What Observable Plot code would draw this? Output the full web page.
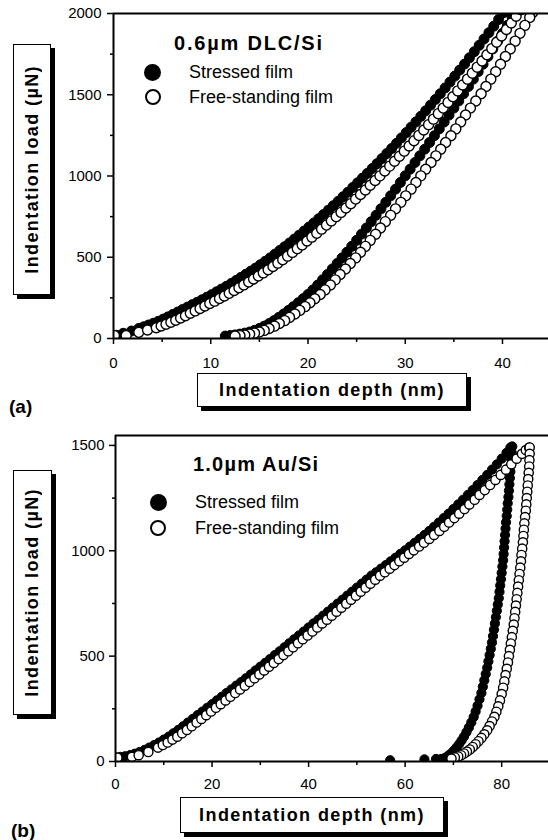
<!DOCTYPE html>
<html><head><meta charset="utf-8">
<script src="https://cdn.jsdelivr.net/npm/d3@7"></script>
<script src="https://cdn.jsdelivr.net/npm/@observablehq/plot@0.6"></script>
<style>
html,body{margin:0;padding:0;background:#fff;}
#wrap{position:relative;width:548px;height:840px;overflow:hidden;background:#fff;font-family:"Liberation Sans",Arial,Helvetica,sans-serif;color:#000;}
.panel{position:absolute;left:0;}
.box{position:absolute;border:1px solid #000;background:#fff;box-shadow:4px 4px 0 #000;display:flex;align-items:center;justify-content:center;font-weight:bold;font-size:18px;letter-spacing:1.4px;box-sizing:border-box;white-space:nowrap;}
.vbox span{writing-mode:vertical-rl;transform:rotate(180deg);}
.txt{position:absolute;white-space:nowrap;line-height:1;}
.dotf{position:absolute;border-radius:50%;background:#000;}
.doto{position:absolute;border-radius:50%;background:#fff;border:2px solid #000;box-sizing:border-box;}
</style>
</head><body>
<div id="wrap"></div>
<script>
// ---------- Panel (a): 0.6 µm DLC/Si ----------
const aTitle = "0.6µm DLC/Si";
const seriesNames = ["Stressed film", "Free-standing film"];
const xLabel = "Indentation depth (nm)";
const yLabel = "Indentation load (µN)";
const aXTicks = [0, 10, 20, 30, 40];
const aXMinor = [5, 15, 25, 35];
const aYTicks = [0, 500, 1000, 1500, 2000];
const aYMinor = [250, 750, 1250, 1750];

// [depth nm, load µN]
const aStressedLoad = [[0,20],[0.3,20],[1.0,32],[1.85,46],[2.6,62],[3.1,72],[3.6,83],[4.1,94],[4.6,106],[5.1,119],[5.6,133],[6.1,148],[6.6,163],[7.1,178],[7.6,193],[8.1,208],[8.6,223],[9.1,238],[9.6,254],[10.1,270],[10.6,287],[11.1,304],[11.6,321],[12.1,339],[12.6,357],[13.1,376],[13.6,395],[14.1,414],[14.6,433],[15.1,454],[15.6,475],[16.1,496],[16.6,519],[17.1,542],[17.6,565],[18.1,588],[18.6,612],[19.1,636],[19.6,661],[20.1,686],[20.6,711],[21.1,737],[21.6,763],[22.1,790],[22.6,817],[23.1,844],[23.6,872],[24.1,900],[24.6,929],[25.1,958],[25.6,987],[26.1,1016],[26.6,1046],[27.1,1076],[27.6,1107],[28.1,1138],[28.6,1169],[29.1,1201],[29.6,1234],[30.1,1267],[30.6,1300],[31.1,1333],[31.6,1367],[32.1,1401],[32.6,1436],[33.1,1471],[33.6,1506],[34.1,1542],[34.6,1578],[35.1,1615],[35.6,1652],[36.1,1689],[36.6,1727],[37.1,1765],[37.6,1804],[38.1,1843],[38.6,1882],[39.1,1922],[39.6,1963],[40.1,2004]];
const aStressedUnload = [[41.3,2006],[41,1976],[40.5,1927],[40,1878],[39.5,1830],[39,1782],[38.5,1735],[38,1688],[37.5,1642],[37,1596],[36.5,1551],[36,1506],[35.5,1462],[35,1418],[34.5,1375],[34,1332],[33.5,1290],[33,1248],[32.5,1206],[32,1165],[31.5,1124],[31,1083],[30.5,1042],[30,1001],[29.5,960],[29,919],[28.5,878],[28,838],[27.5,798],[27,758],[26.5,719],[26,680],[25.5,642],[25,604],[24.5,567],[24,531],[23.5,496],[23,462],[22.5,428],[22,394],[21.5,361],[21,329],[20.5,299],[20,271],[19.5,245],[19,220],[18.5,196],[18,173],[17.5,151],[17,130],[16.5,110],[16,92],[15.5,76],[15,62],[14.5,50],[14,40],[13.5,33],[13,27],[12.5,22],[12,18],[11.5,15]];
const aFreeLoad = [[0.1,18],[1.3,18],[2.6,38],[3.5,52],[4.4,66],[4.9,77],[5.4,88],[5.9,100],[6.4,112],[6.9,126],[7.4,140],[7.9,155],[8.4,170],[8.9,185],[9.4,200],[9.9,215],[10.4,230],[10.9,246],[11.4,262],[11.9,278],[12.4,295],[12.9,312],[13.4,330],[13.9,348],[14.4,366],[14.9,385],[15.4,404],[15.9,423],[16.4,443],[16.9,464],[17.4,485],[17.9,507],[18.4,530],[18.9,553],[19.4,576],[19.9,600],[20.4,624],[20.9,648],[21.4,673],[21.9,698],[22.4,724],[22.9,750],[23.4,776],[23.9,803],[24.4,830],[24.9,858],[25.4,886],[25.9,914],[26.4,943],[26.9,972],[27.4,1001],[27.9,1031],[28.4,1061],[28.9,1091],[29.4,1122],[29.9,1153],[30.4,1185],[30.9,1217],[31.4,1250],[31.9,1283],[32.4,1316],[32.9,1350],[33.4,1384],[33.9,1418],[34.4,1453],[34.9,1488],[35.4,1524],[35.9,1560],[36.4,1596],[36.9,1633],[37.4,1670],[37.9,1708],[38.4,1746],[38.9,1784],[39.4,1823],[39.9,1862],[40.4,1902],[40.9,1942],[41.4,1983],[41.9,2024]];
const aFreeUnload = [[43.1,2006],[42.8,1976],[42.3,1927],[41.8,1878],[41.3,1830],[40.8,1782],[40.3,1735],[39.8,1688],[39.3,1642],[38.8,1596],[38.3,1551],[37.8,1506],[37.25,1462],[36.7,1418],[36.2,1375],[35.7,1332],[35.2,1290],[34.7,1248],[34.15,1206],[33.65,1165],[33.15,1124],[32.65,1083],[32.1,1042],[31.6,1001],[31.1,960],[30.6,919],[30.05,878],[29.55,838],[29.0,798],[28.5,758],[27.95,719],[27.45,680],[26.95,642],[26.4,604],[25.9,567],[25.4,531],[24.9,496],[24.35,462],[23.85,428],[23.3,394],[22.8,361],[22.3,329],[21.75,299],[21.25,271],[20.7,245],[20.2,220],[19.7,196],[19.15,173],[18.65,151],[18.1,130],[17.6,110],[17.05,92],[16.55,76],[16.0,62],[15.5,50],[15.0,40],[14.5,33],[14.0,27],[13.5,22],[13.0,18],[12.5,15]];

// ---------- Panel (b): 1.0 µm Au/Si ----------
const bTitle = "1.0µm Au/Si";
const bXTicks = [0, 20, 40, 60, 80];
const bXMinor = [10, 30, 50, 70];
const bYTicks = [0, 500, 1000, 1500];
const bYMinor = [250, 750, 1250];

const bStressedLoad = [[0,20],[1.0,22],[2.0,25],[3.0,30],[4.0,37],[5.0,45],[6.0,55],[7.0,66],[8.0,78],[9.0,90],[10.0,104],[11.0,118],[12.0,134],[13.0,150],[14.0,167],[15.0,185],[16.0,202],[17.0,220],[18.0,237],[19.0,255],[20.0,272],[21.0,290],[22.0,307],[23.0,325],[24.0,342],[25.0,360],[26.0,377],[27.0,395],[28.0,413],[29.0,432],[30.0,450],[31.0,468],[32.0,486],[33.0,505],[34.0,523],[35.0,542],[36.0,561],[37.0,580],[38.0,598],[39.0,617],[40.0,636],[41.0,655],[42.0,673],[43.0,692],[44.0,711],[45.0,730],[46.0,749],[47.0,768],[48.0,787],[49.0,806],[50.0,825],[51.0,844],[52.0,863],[53.0,882],[54.0,898],[55.0,915],[56.0,932],[57.0,950],[58.0,967],[59.0,985],[60.0,1002],[61.0,1020],[62.0,1038],[63.0,1056],[64.0,1075],[65.0,1094],[66.0,1114],[67.0,1134],[68.0,1155],[69.0,1176],[70.0,1198],[71.0,1220],[72.0,1242],[73.0,1265],[74.0,1288],[75.0,1312],[76.0,1336],[77.0,1360],[78.0,1385],[79.0,1410],[80.0,1437],[81.0,1465],[81.8,1490]];
const bStressedUnload = [[82.2,1495],[82.1,1465],[82.0,1435],[81.9,1405],[81.8,1375],[81.7,1345],[81.6,1315],[81.5,1285],[81.4,1255],[81.25,1225],[81.15,1195],[81.05,1165],[80.9,1135],[80.8,1105],[80.7,1075],[80.6,1045],[80.5,1015],[80.4,985],[80.3,955],[80.15,925],[80.0,895],[79.85,865],[79.7,835],[79.55,805],[79.4,775],[79.2,745],[79.0,715],[78.8,685],[78.6,655],[78.4,625],[78.2,595],[78.0,565],[77.75,535],[77.5,505],[77.25,475],[77.0,445],[76.7,415],[76.4,385],[76.1,355],[75.8,325],[75.4,295],[75.0,265],[74.6,237],[74.2,211],[73.7,185],[73.2,161],[72.7,139],[72.2,118],[71.7,100],[71.2,83],[70.7,68],[70.2,54],[69.7,42],[69.2,32],[68.7,23],[68.2,16],[67.5,12],[66.4,12],[64.0,10],[56.9,6]];
const bFreeLoad = [[0.4,18],[3.4,22],[4.8,30],[6.8,45],[8.8,66],[9.8,78],[10.8,90],[11.8,104],[12.8,118],[13.8,134],[14.8,150],[15.8,167],[16.8,185],[17.8,202],[18.8,220],[19.8,237],[20.8,255],[21.8,272],[22.8,290],[23.8,307],[24.8,325],[25.8,342],[26.8,360],[27.8,377],[28.8,395],[29.8,413],[30.8,432],[31.8,450],[32.8,468],[33.8,486],[34.8,505],[35.8,523],[36.8,542],[37.8,561],[38.8,580],[39.8,598],[40.8,617],[41.8,636],[42.8,655],[43.8,673],[44.8,692],[45.8,711],[46.8,730],[47.8,749],[48.8,768],[49.8,787],[50.8,806],[51.8,825],[52.8,844],[53.8,863],[54.8,882],[55.8,898],[56.8,915],[57.8,932],[58.8,950],[59.8,967],[60.8,985],[61.8,1002],[62.9,1020],[63.9,1038],[65.0,1056],[66.0,1075],[67.1,1094],[68.1,1114],[69.1,1134],[70.2,1155],[71.2,1176],[72.3,1198],[73.3,1220],[74.4,1242],[75.4,1265],[76.5,1288],[77.6,1312],[78.7,1336],[79.8,1360],[80.9,1385],[82.0,1410],[83.1,1437],[84.2,1460],[85.0,1478],[85.7,1490]];
const bFreeUnload = [[85.8,1490],[85.8,1460],[85.75,1430],[85.7,1400],[85.6,1370],[85.5,1340],[85.4,1310],[85.3,1280],[85.2,1250],[85.1,1220],[85.0,1190],[84.85,1160],[84.7,1130],[84.6,1100],[84.5,1070],[84.4,1040],[84.25,1010],[84.1,980],[84.0,950],[83.85,920],[83.7,890],[83.55,860],[83.4,830],[83.25,800],[83.1,770],[82.95,740],[82.8,710],[82.65,680],[82.5,650],[82.3,620],[82.1,590],[81.9,560],[81.7,530],[81.5,500],[81.3,470],[81.05,440],[80.8,410],[80.55,380],[80.3,350],[80.0,320],[79.65,290],[79.3,262],[78.9,236],[78.5,212],[78.0,190],[77.5,168],[77.0,148],[76.4,129],[75.8,112],[75.2,96],[74.6,82],[74.0,69],[73.4,57],[72.8,47],[72.2,38],[71.6,30],[71.0,24],[70.3,19],[69.6,14]];

const FONT = '"Liberation Sans", Arial, Helvetica, sans-serif';
const wrap = document.getElementById("wrap");

function makePanel(cfg) {
  const X = d => d[0], Y = d => d[1];
  const filled = {x: X, y: Y, r: cfg.r, fill: "#000", stroke: "#000", strokeWidth: 1, clip: true};
  const open = {x: X, y: Y, r: cfg.r, fill: "#fff", stroke: "#000", strokeWidth: 1.4, clip: true};
  const svg = Plot.plot({
    width: 548, height: cfg.height,
    marginTop: cfg.mt, marginLeft: cfg.ml, marginRight: 0, marginBottom: cfg.mb,
    style: {fontFamily: FONT, fontSize: "15px", color: "#000", background: "transparent", overflow: "visible"},
    x: {domain: cfg.xd},
    y: {domain: cfg.yd},
    marks: [
      Plot.dot(cfg.sLoad, filled),
      Plot.dot(cfg.sUnload, filled),
      Plot.dot(cfg.fLoad, open),
      Plot.dot(cfg.fUnload, open),
      Plot.ruleX([0], {stroke: "#000", strokeWidth: 2}),
      Plot.ruleY([0], {stroke: "#000", strokeWidth: 2}),
      Plot.ruleY([cfg.yd[1]], {stroke: "#000", strokeWidth: 2}),
      Plot.axisX(cfg.xTicks, {tickSize: 6, tickPadding: cfg.xpad, tickFormat: d3.format("d"), strokeWidth: 1.5, fontSize: 15, label: null}),
      Plot.axisX(cfg.xMinor, {tickSize: 4, tickFormat: () => "", strokeWidth: 1.5, label: null}),
      Plot.axisY(cfg.yTicks, {tickSize: 6, tickPadding: cfg.ypad, tickFormat: d3.format("d"), strokeWidth: 1.5, fontSize: 15, label: null}),
      Plot.axisY(cfg.yMinor, {tickSize: 3, tickFormat: () => "", strokeWidth: 1.5, label: null})
    ]
  });
  const holder = document.createElement("div");
  holder.className = "panel";
  holder.style.top = cfg.top + "px";
  holder.appendChild(svg);
  wrap.appendChild(holder);
}

makePanel({top: 0, height: 365, mt: 13, ml: 113, mb: 27, xd: [0, 44.73], yd: [0, 2000],
  r: 5, xpad: 13, ypad: 6,
  xTicks: aXTicks, xMinor: aXMinor, yTicks: aYTicks, yMinor: aYMinor,
  sLoad: aStressedLoad, sUnload: aStressedUnload, fLoad: aFreeLoad, fUnload: aFreeUnload});

makePanel({top: 420, height: 370, mt: 15, ml: 115, mb: 29, xd: [0, 89.7], yd: [0, 1547],
  r: 4.6, xpad: 11, ypad: 5,
  xTicks: bXTicks, xMinor: bXMinor, yTicks: bYTicks, yMinor: bYMinor,
  sLoad: bStressedLoad, sUnload: bStressedUnload, fLoad: bFreeLoad, fUnload: bFreeUnload});

function el(cls, css, text) {
  const d = document.createElement("div");
  d.className = cls;
  Object.assign(d.style, css);
  if (text !== undefined) {
    if (cls.includes("vbox")) { const s = document.createElement("span"); s.textContent = text; d.appendChild(s); }
    else d.textContent = text;
  }
  wrap.appendChild(d);
  return d;
}

// axis title boxes
el("box vbox", {left: "13px", top: "44px", width: "38px", height: "251px"}, yLabel);
el("box", {left: "197px", top: "373px", width: "270px", height: "34px"}, xLabel);
el("box vbox", {left: "13px", top: "470px", width: "39px", height: "245px"}, yLabel);
el("box", {left: "180px", top: "797px", width: "264px", height: "36px"}, xLabel);

// panel letters
el("txt", {left: "9px", top: "397px", fontSize: "19px", fontWeight: "bold"}, "(a)");
el("txt", {left: "11px", top: "821px", fontSize: "19px", fontWeight: "bold"}, "(b)");

// legends
function legend(L) {
  el("txt", {left: L.tx + "px", top: (L.ty - 10) + "px", fontSize: "20px", fontWeight: "bold", letterSpacing: L.ls + "px"}, L.title);
  el("dotf", {left: (L.cx - 8.5) + "px", top: (L.y1 - 8.5) + "px", width: "17px", height: "17px"});
  el("txt", {left: L.lx + "px", top: (L.y1 - 9) + "px", fontSize: "18px"}, seriesNames[0]);
  el("doto", {left: (L.cx - 8) + "px", top: (L.y2 - 8) + "px", width: "16px", height: "16px"});
  el("txt", {left: L.lx + "px", top: (L.y2 - 9) + "px", fontSize: "18px"}, seriesNames[1]);
}
legend({title: aTitle, tx: 174, ty: 43, cx: 152.5, y1: 72, y2: 97, lx: 189, ls: 1.8});
legend({title: bTitle, tx: 193, ty: 464, cx: 158, y1: 502, y2: 528, lx: 195, ls: 1.2});
</script>
</body></html>
